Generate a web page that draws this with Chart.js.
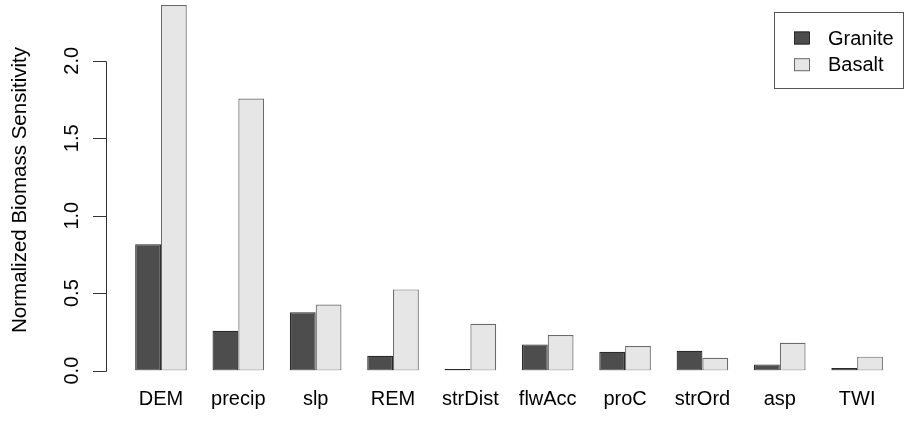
<!DOCTYPE html>
<html>
<head>
<meta charset="utf-8">
<script src="https://cdn.jsdelivr.net/npm/chart.js@4/dist/chart.umd.min.js"></script>
<style>
  html, body { margin: 0; padding: 0; background: #ffffff; }
  #wrap { width: 904px; height: 430px; position: relative; }
</style>
</head>
<body>
<div id="wrap"><canvas id="c" width="904" height="430"></canvas></div>
<script>
const categories = ["DEM", "precip", "slp", "REM", "strDist", "flwAcc", "proC", "strOrd", "asp", "TWI"];
const seriesNames = ["Granite", "Basalt"];
const granite = [0.815, 0.257, 0.376, 0.096, 0.010, 0.169, 0.122, 0.128, 0.040, 0.017];
const basalt  = [2.36, 1.756, 0.426, 0.524, 0.302, 0.229, 0.158, 0.083, 0.180, 0.090];
const yTicks = [0, 0.5, 1.0, 1.5, 2.0];
const yTitle = "Normalized Biomass Sensitivity";

const FONT = "'Liberation Sans', Arial, sans-serif";
const fills = ["#4d4d4d", "#e6e6e6"];
const borders = ["#2a2a2a", "#6a6a6a"];

const rStyle = {
  id: 'rStyle',
  afterDraw(chart) {
    const ctx = chart.ctx;
    const y = chart.scales.y;
    ctx.save();
    const axX = 106.5;
    ctx.strokeStyle = '#333';
    ctx.lineWidth = 1;
    ctx.beginPath();
    ctx.moveTo(axX, Math.round(y.getPixelForValue(yTicks[0])) + 0.5);
    ctx.lineTo(axX, Math.round(y.getPixelForValue(yTicks[yTicks.length - 1])) + 0.5);
    yTicks.forEach(v => {
      const py = Math.round(y.getPixelForValue(v)) + 0.5;
      ctx.moveTo(axX, py);
      ctx.lineTo(93, py);
    });
    ctx.stroke();
    ctx.fillStyle = '#000';
    ctx.font = '20px ' + FONT;
    ctx.textAlign = 'center';
    ctx.textBaseline = 'middle';
    yTicks.forEach(v => {
      ctx.save();
      ctx.translate(72, y.getPixelForValue(v));
      ctx.rotate(-Math.PI / 2);
      ctx.fillText(v.toFixed(1), 0, 0);
      ctx.restore();
    });
    ctx.save();
    ctx.translate(20, 190);
    ctx.rotate(-Math.PI / 2);
    ctx.font = '20.5px ' + FONT;
    ctx.fillText(yTitle, 0, 0);
    ctx.restore();
    ctx.strokeStyle = '#555';
    ctx.strokeRect(774.5, 12.5, 129, 76);
    const rows = [38, 64.7];
    seriesNames.forEach((name, i) => {
      ctx.fillStyle = fills[i];
      ctx.fillRect(794, rows[i] - 6.5, 15, 13);
      ctx.strokeStyle = borders[i];
      ctx.strokeRect(794.5, rows[i] - 6, 15, 12);
      ctx.fillStyle = '#000';
      ctx.textAlign = 'left';
      ctx.textBaseline = 'middle';
      ctx.fillText(name, 828, rows[i] + 1);
    });
    ctx.restore();
  }
};

new Chart(document.getElementById('c'), {
  type: 'bar',
  data: {
    labels: categories,
    datasets: [
      { label: seriesNames[0], data: granite, backgroundColor: fills[0], borderColor: borders[0], borderWidth: 1.2, borderSkipped: false },
      { label: seriesNames[1], data: basalt, backgroundColor: fills[1], borderColor: borders[1], borderWidth: 1.2, borderSkipped: false }
    ]
  },
  options: {
    responsive: false,
    animation: false,
    devicePixelRatio: 1,
    layout: { padding: { left: 122.3, right: 8.2, top: 5, bottom: 1.4 } },
    datasets: { bar: { barPercentage: 1.0, categoryPercentage: 0.667 } },
    plugins: { legend: { display: false }, tooltip: { enabled: false } },
    scales: {
      x: {
        grid: { display: false, drawTicks: false },
        border: { display: false },
        ticks: { color: '#000', font: { family: FONT, size: 20 }, padding: 17, maxRotation: 0, autoSkip: false }
      },
      y: {
        display: false,
        min: 0,
        max: 2.36
      }
    }
  },
  plugins: [rStyle]
});
</script>
</body>
</html>
